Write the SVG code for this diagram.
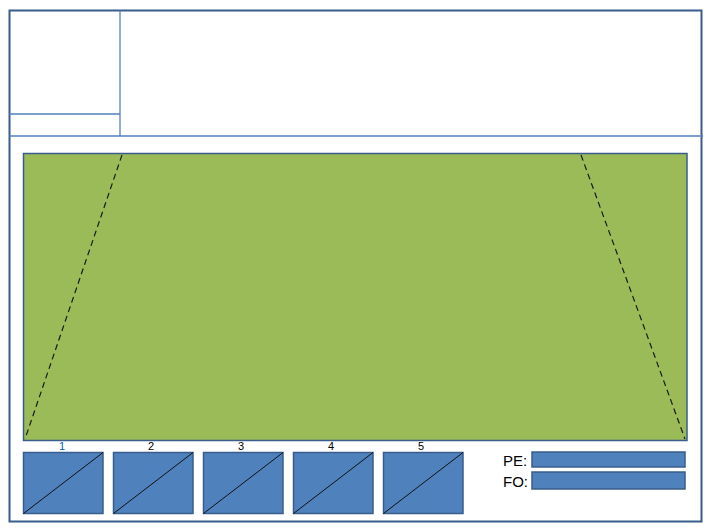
<svg xmlns="http://www.w3.org/2000/svg" width="711" height="532" viewBox="0 0 711 532">
<style>
.frame{fill:#fff;stroke:#385D8A;stroke-width:2}
.thin{stroke:#4F81BD;stroke-width:1.3;fill:none}
.field{fill:#9BBB59;stroke:#385D8A;stroke-width:1.5}
.dash{stroke:#1a1a1a;stroke-width:1.2;stroke-dasharray:6,4;fill:none}
.box{fill:#4F81BD;stroke:#385D8A;stroke-width:1.5}
.diag{stroke:#111;stroke-width:1;fill:none}
.num{font-family:"Liberation Sans",Arial,sans-serif;font-size:11px;text-anchor:middle;fill:#000}
.first{fill:#0060C0}
.lbl{font-family:"Liberation Sans",Arial,sans-serif;font-size:15px;fill:#000}
</style>
<rect width="711" height="532" fill="#fff"/>
<g id="frame">
<rect class="frame" x="9.5" y="10.5" width="692" height="511"/>
<line class="thin" x1="120" y1="10.5" x2="120" y2="136"/>
<line class="thin" x1="9.5" y1="114" x2="120" y2="114"/>
<line class="thin" x1="9.5" y1="136" x2="703" y2="136"/>
</g>
<g id="field">
<rect class="field" x="23.5" y="153.5" width="663.5" height="287"/>
</g>
<g id="connectors">
<line class="dash" x1="122" y1="155" x2="25" y2="439"/>
<line class="dash" x1="581" y1="155" x2="685" y2="439"/>
</g>
<g id="box1">
<rect class="box" x="23.5" y="452.5" width="79.5" height="61"/>
<line class="diag" x1="23.5" y1="513.5" x2="103" y2="452.5"/>
<text class="num first" x="62" y="450">1</text>
</g>
<g id="box2">
<rect class="box" x="113.5" y="452.5" width="79.5" height="61"/>
<line class="diag" x1="113.5" y1="513.5" x2="193" y2="452.5"/>
<text class="num" x="151" y="450">2</text>
</g>
<g id="box3">
<rect class="box" x="203.5" y="452.5" width="79.5" height="61"/>
<line class="diag" x1="203.5" y1="513.5" x2="283" y2="452.5"/>
<text class="num" x="241" y="450">3</text>
</g>
<g id="box4">
<rect class="box" x="293.5" y="452.5" width="79.5" height="61"/>
<line class="diag" x1="293.5" y1="513.5" x2="373" y2="452.5"/>
<text class="num" x="331" y="450">4</text>
</g>
<g id="box5">
<rect class="box" x="383.5" y="452.5" width="79.5" height="61"/>
<line class="diag" x1="383.5" y1="513.5" x2="463" y2="452.5"/>
<text class="num" x="421" y="450">5</text>
</g>
<g id="pe">
<text class="lbl" x="503" y="466">PE:</text>
<rect class="box" x="532" y="452" width="153" height="15"/>
</g>
<g id="fo">
<text class="lbl" x="503" y="487">FO:</text>
<rect class="box" x="532" y="472" width="153" height="17"/>
</g>
</svg>
